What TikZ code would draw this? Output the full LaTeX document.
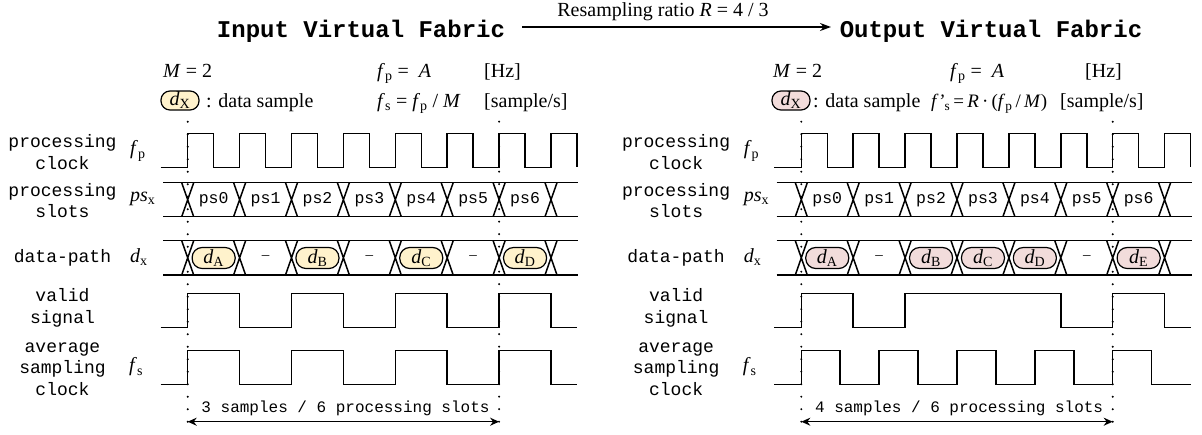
\documentclass[tikz,border=0pt]{standalone}
\usepackage{fontspec}
\setmainfont{Liberation Serif}
\setmonofont{Liberation Mono}
\usetikzlibrary{arrows.meta}

\definecolor{inyellow}{HTML}{FFF2CC}
\definecolor{outpink}{HTML}{F2DCDB}

\newcommand{\fsz}[2]{\fontsize{#1}{#2}\selectfont}
\newcommand{\vs}[2]{\textit{#1}\textsubscript{#2}}

% slot geometry (pt): first guide line and slot width
\def\xo{187.7}
\def\slotw{51.9}

% rows shared by both fabrics; #1 = name prefix
\newcommand{\panelrows}[1]{%
  % dotted guide lines over one 6-slot window
  \foreach \g in {0,6}
    \draw[guide] ({\xo+\g*\slotw},121.7) -- ({\xo+\g*\slotw},434);
  % row names
  \node[lbl] (#1-nclk)  at (62.5,152)   {processing\\clock};
  \node[lbl] (#1-nps)   at (62.5,200.8) {processing\\slots};
  \node[lbl] (#1-ndp)   at (62.5,258)   {data-path};
  \node[lbl] (#1-nval)  at (62.5,308)   {valid\\signal};
  \node[lbl] (#1-navg)  at (62.5,369)   {average\\sampling\\clock};
  \node[sym] (#1-sfp)   at (130,151)    {\vs{f}{p}};
  \node[sym] (#1-sps)   at (130,199)    {\vs{ps}{x}};
  \node[sym] (#1-sdx)   at (130,257)    {\vs{d}{x}};
  \node[sym] (#1-sfs)   at (129,367)    {\vs{f}{s}};
  % processing clock
  \draw[wave] (160.7,167.3)
    \foreach \k in {0,...,7}{
      -- ({\xo+\k*\slotw},167.3) -- ({\xo+\k*\slotw},133.3)
      -- ({\xo+(\k+0.5)*\slotw},133.3) -- ({\xo+(\k+0.5)*\slotw},167.3)};
  % slot and data buses
  \foreach \yt/\yb in {182.7/216.7, 240.7/275}{
    \draw[wave] (163,\yt) -- (578,\yt) (163,\yb) -- (578,\yb);
    \foreach \k in {0,...,7}
      \draw[wave] ({\xo+\k*\slotw-6},\yt) -- ({\xo+\k*\slotw+6},\yb)
                  ({\xo+\k*\slotw-6},\yb) -- ({\xo+\k*\slotw+6},\yt);
  }
  \foreach \k in {0,...,6}
    \node[slotlbl] (#1-ps\k) at ({\xo+(\k+0.5)*\slotw},199.7) {ps\k};
  % window span
  \coordinate (#1-w0) at (\xo,421.7);
  \coordinate (#1-w6) at ({\xo+6*\slotw},421.7);
  \draw[span] (#1-w0) -- (#1-w6);
}

\begin{document}
\begin{tikzpicture}[x=1pt,y=-1pt,
  wave/.style={line width=1.5pt, line join=miter},
  guide/.style={line width=2.2pt, line cap=round, dash pattern=on 0pt off 12.5pt},
  lbl/.style={font=\fsz{18}{21.5}\ttfamily, align=center, inner sep=0pt},
  sym/.style={font=\fsz{20}{24}, anchor=west, inner sep=0pt},
  slotlbl/.style={font=\fsz{16.5}{20}\ttfamily, inner sep=0pt},
  hdr/.style={font=\fsz{20}{24}, anchor=base west, inner sep=0pt},
  ttl/.style={font=\fsz{24}{28}\ttfamily\bfseries, inner sep=0pt},
  pill/.style={draw, line width=1.2pt, rounded corners=10pt, minimum width=43pt,
               minimum height=21pt, inner sep=0pt, font=\fsz{20}{24}},
  keypill/.style={pill, minimum width=38pt, minimum height=19pt, rounded corners=9pt},
  gap/.style={font=\fsz{15}{18}, inner sep=0pt},
  span/.style={line width=1.5pt, {Stealth[length=9pt,width=8pt]}-{Stealth[length=9pt,width=8pt]}},
  ratio/.style={line width=1.5pt, -{Stealth[length=11pt,width=8pt]}},
  spanlbl/.style={font=\fsz{16}{19}\ttfamily, inner sep=0pt}
]
\useasboundingbox (0,0) rectangle (1202,434);

% ---------- titles ----------
\node[ttl] (tin)  at (361,31.7) {Input Virtual Fabric};
\node[ttl] (tout) at (991,31.7) {Output Virtual Fabric};
\coordinate (ra) at (522,27);
\coordinate (rb) at (831,27);
\draw[ratio] (ra) -- (rb);
\node[font=\fsz{20}{24}, inner sep=0pt] (rlbl) at (663,12) {Resampling ratio \textit{R} = 4 / 3};

% ---------- input fabric ----------
\node[hdr] (L-M)   at (163,77)  {\textit{M} = 2};
\node[hdr] (L-fp)  at (377,77)  {\vs{f}{p} = \ \textit{A}};
\node[hdr] (L-hz)  at (484,77)  {[Hz]};
\node[keypill, fill=inyellow] (L-key) at (180,100.5) {\vs{d}{X}};
\node[hdr] (L-ds)  at (206,107.5) {: data sample};
\node[hdr] (L-fs)  at (377,107.5) {\vs{f}{s} = \vs{f}{p} / \textit{M}};
\node[hdr] (L-sps) at (484,107.5) {[sample/s]};

\panelrows{L}

\foreach \k/\s in {0/A,2/B,4/C,6/D}
  \node[pill, fill=inyellow] (L-d\s) at ({\xo+(\k+0.5)*\slotw},258) {\vs{d}{\s}};
\foreach \k in {1,3,5}
  \node[gap] (L-g\k) at ({\xo+(\k+0.5)*\slotw},258) {--};

\draw[wave] (160.7,327.7)
  \foreach \a/\b in {0/1,2/3,4/5,6/7}{
    -- ({\xo+\a*\slotw},327.7) -- ({\xo+\a*\slotw},293.3)
    -- ({\xo+\b*\slotw},293.3) -- ({\xo+\b*\slotw},327.7)} -- ({\xo+7.5*\slotw},327.7);
\draw[wave] (160.7,384.3)
  \foreach \a/\b in {0/1,2/3,4/5,6/7}{
    -- ({\xo+\a*\slotw},384.3) -- ({\xo+\a*\slotw},350.7)
    -- ({\xo+\b*\slotw},350.7) -- ({\xo+\b*\slotw},384.3)} -- ({\xo+7.5*\slotw},384.3);
\node[spanlbl] (L-span) at (345.5,408.3) {3 samples / 6 processing slots};

% ---------- output fabric ----------
\node[hdr] (R-M)   at (773,77)  {\textit{M} = 2};
\node[hdr] (R-fp)  at (950,77)  {\vs{f}{p} = \ \textit{A}};
\node[hdr] (R-hz)  at (1085,77) {[Hz]};
\node[keypill, fill=outpink] (R-key) at (791,100.5) {\vs{d}{X}};
\node[hdr] (R-ds)  at (813,107.5) {: data sample};
\node[hdr, font=\fsz{19}{23}] (R-fs) at (931,107.5)
  {\textit{f’}\textsubscript{s}\,=\,\textit{R}\,·\,(\vs{f}{p}\,/\,\textit{M})};
\node[hdr] (R-sps) at (1060,107.5) {[sample/s]};

\begin{scope}[xshift=613.6pt]
\panelrows{R}
\foreach \k/\s in {0/A,2/B,3/C,4/D,6/E}
  \node[pill, fill=outpink] (R-d\s) at ({\xo+(\k+0.5)*\slotw},258) {\vs{d}{\s}};
\foreach \k in {1,5}
  \node[gap] (R-g\k) at ({\xo+(\k+0.5)*\slotw},258) {--};

\draw[wave] (160.7,327.7)
  \foreach \a/\b in {0/1,2/5,6/7}{
    -- ({\xo+\a*\slotw},327.7) -- ({\xo+\a*\slotw},293.3)
    -- ({\xo+\b*\slotw},293.3) -- ({\xo+\b*\slotw},327.7)} -- ({\xo+7.5*\slotw},327.7);
\draw[wave] (160.7,384.3)
  \foreach \a/\b in {0/0.75,1.5/2.25,3/3.75,4.5/5.25,6/6.75}{
    -- ({\xo+\a*\slotw},384.3) -- ({\xo+\a*\slotw},350.7)
    -- ({\xo+\b*\slotw},350.7) -- ({\xo+\b*\slotw},384.3)} -- ({\xo+7.5*\slotw},384.3);
\node[spanlbl] (R-span) at (345.5,408.3) {4 samples / 6 processing slots};
\end{scope}
\end{tikzpicture}
\end{document}
